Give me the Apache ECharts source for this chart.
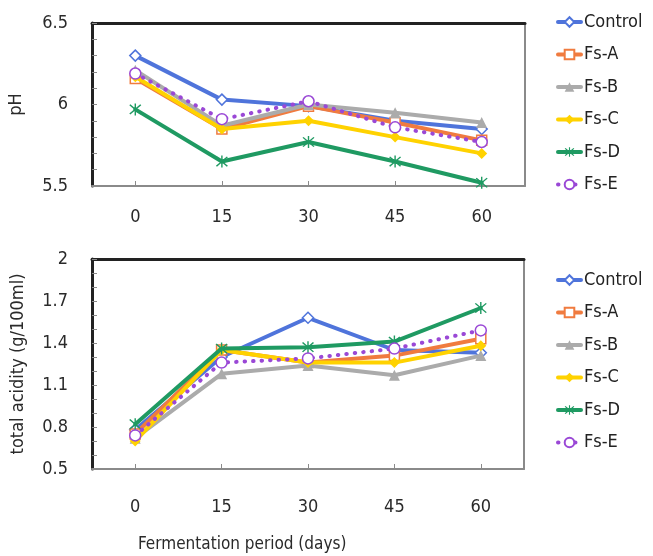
<!DOCTYPE html>
<html><head><meta charset="utf-8">
<script src="https://cdn.jsdelivr.net/npm/echarts@6/dist/echarts.min.js"></script>
<style>html,body{margin:0;padding:0;background:#fff}#c{width:653px;height:556px}</style>
</head><body><div id="c"></div>
<script>
const days = ['0','15','30','45','60'];
const seriesNames = ['Control','Fs-A','Fs-B','Fs-C','Fs-D','Fs-E'];
// pH
const phControl = [6.30, 6.03, 5.99, 5.90, 5.85];
const phA = [6.16, 5.85, 5.99, 5.89, 5.78];
const phB = [6.21, 5.87, 6.00, 5.95, 5.89];
const phC = [6.17, 5.85, 5.90, 5.80, 5.70];
const phD = [5.97, 5.65, 5.77, 5.65, 5.52];
const phE = [6.19, 5.91, 6.02, 5.86, 5.77];
// total acidity
const taControl = [0.78, 1.30, 1.58, 1.35, 1.33];
const taA = [0.75, 1.35, 1.26, 1.31, 1.43];
const taB = [0.72, 1.18, 1.24, 1.17, 1.31];
const taC = [0.70, 1.35, 1.26, 1.26, 1.38];
const taD = [0.82, 1.36, 1.37, 1.41, 1.65];
const taE = [0.74, 1.26, 1.29, 1.36, 1.49];
const phTicks = [5.5, 6, 6.5];
const taTicks = [0.5, 0.8, 1.1, 1.4, 1.7, 2];

const FONT = 'DejaVu Sans Condensed';
const colors = ['#4F74DB','#F07B3F','#ABABAB','#FFD200','#1F9A62','#9A48D6'];
const asterisk = 'path://M9,0 L11,0 L11,20 L9,20 Z M1.5,3 L3,1.5 L18.5,17 L17,18.5 Z M17,1.5 L18.5,3 L3,18.5 L1.5,17 Z';
const styles = [
  {symbol:'diamond', size:11, fill:'#fff'},
  {symbol:'rect', size:10, fill:'#fff'},
  {symbol:'triangle', size:11, fill:null},
  {symbol:'diamond', size:11, fill:null},
  {symbol:asterisk, size:12, fill:null},
  {symbol:'circle', size:11, fill:'#fff'}
];
function mk(name, idx, data, axisIdx){
  const st = styles[idx];
  const col = colors[idx];
  return {
    name: name, type:'line', data: data,
    xAxisIndex: axisIdx*2, yAxisIndex: axisIdx*2,
    symbol: st.symbol, symbolSize: st.size, showSymbol:true,
    lineStyle: {color: col, width: 4, type: idx===5 ? [0.5, 8] : 'solid', cap: 'round'},
    itemStyle: {color: st.fill || col, borderColor: col, borderWidth: st.fill ? 1.5 : 0},
    emphasis: {disabled:true}, animation:false, z: 2+idx
  };
}
function fmt(ticks){
  return function(v){
    for (const t of ticks){ if (Math.abs(v - t) < 1e-6) return String(t); }
    return '';
  };
}
const grids = [
  {left:92, top:23, width:433, height:163, containLabel:false, outerBoundsMode:'none'},
  {left:92, top:259, width:432, height:210, containLabel:false, outerBoundsMode:'none'}
];
const xAxes = [], yAxes = [];
[0,1].forEach(g=>{
  xAxes.push({type:'category', gridIndex:g, data:days, boundaryGap:true, position:'bottom',
    axisLine:{show:true, lineStyle:{color:'#8a8a8a', width:2}},
    axisTick:{show:true, inside:true, alignWithLabel:true, length:5, lineStyle:{color:'#8a8a8a', width:1}},
    axisLabel:{show:true, margin: g===0 ? 22 : 29, color:'#2a2a2a', fontSize:18, fontFamily:FONT},
    splitLine:{show:false}});
  xAxes.push({type:'category', gridIndex:g, data:days, position:'top',
    axisLine:{show:true, lineStyle:{color:'#222', width:3}},
    axisTick:{show:false}, axisLabel:{show:false}, splitLine:{show:false}});
});
yAxes.push({type:'value', gridIndex:0, min:5.5, max:6.5, interval:0.1, position:'left',
  name:'pH', nameLocation:'middle', nameGap:67, nameRotate:90,
  nameTextStyle:{color:'#2a2a2a', fontSize:18, fontFamily:FONT},
  axisLine:{show:true, lineStyle:{color:'#222', width:3}},
  axisTick:{show:true, inside:true, length:5, lineStyle:{color:'#8a8a8a'}},
  axisLabel:{margin:24, color:'#2a2a2a', fontSize:18, fontFamily:FONT, formatter: fmt(phTicks), showMinLabel:true, showMaxLabel:true},
  splitLine:{show:false}});
yAxes.push({type:'value', gridIndex:0, min:5.5, max:6.5, position:'right',
  axisLine:{show:true, lineStyle:{color:'#8a8a8a', width:2}},
  axisTick:{show:false}, axisLabel:{show:false}, splitLine:{show:false}});
yAxes.push({type:'value', gridIndex:1, min:0.5, max:2, interval:0.1, position:'left',
  name:'total acidity (g/100ml)', nameLocation:'middle', nameGap:65, nameRotate:90,
  nameTextStyle:{color:'#2a2a2a', fontSize:18, fontFamily:FONT},
  axisLine:{show:true, lineStyle:{color:'#222', width:3}},
  axisTick:{show:true, inside:true, length:5, lineStyle:{color:'#8a8a8a'}},
  axisLabel:{margin:24, color:'#2a2a2a', fontSize:18, fontFamily:FONT, formatter: fmt(taTicks), showMinLabel:true, showMaxLabel:true},
  splitLine:{show:false}});
yAxes.push({type:'value', gridIndex:1, min:0.5, max:2, position:'right',
  axisLine:{show:true, lineStyle:{color:'#8a8a8a', width:2}},
  axisTick:{show:false}, axisLabel:{show:false}, splitLine:{show:false}});

const phData = [phControl, phA, phB, phC, phD, phE];
const taData = [taControl, taA, taB, taC, taD, taE];
const series = [];
seriesNames.forEach((n,i)=>series.push(mk(n, i, phData[i], 0)));
seriesNames.forEach((n,i)=>series.push(mk(n, i, taData[i], 1)));

const legendBase = {orient:'vertical', left:556, padding:0, itemWidth:23, itemHeight:12, itemGap:14.5,
  lineStyle:{width:4},
  textStyle:{color:'#222', fontSize:18, fontFamily:FONT, padding:[0,0,0,-2]}, data:seriesNames, selectedMode:false};
const chart = echarts.init(document.getElementById('c'), null, {renderer:'canvas'});
chart.setOption({
  animation:false,
  backgroundColor:'#fff',
  title:{text:'Fermentation period (days)', left:133, top:531,
    textStyle:{color:'#2a2a2a', fontSize:17, fontWeight:'normal', fontFamily:FONT}},
  grid: grids,
  legend:[Object.assign({top:13}, legendBase), Object.assign({top:271}, legendBase)],
  xAxis: xAxes, yAxis: yAxes, series: series
});
</script></body></html>
